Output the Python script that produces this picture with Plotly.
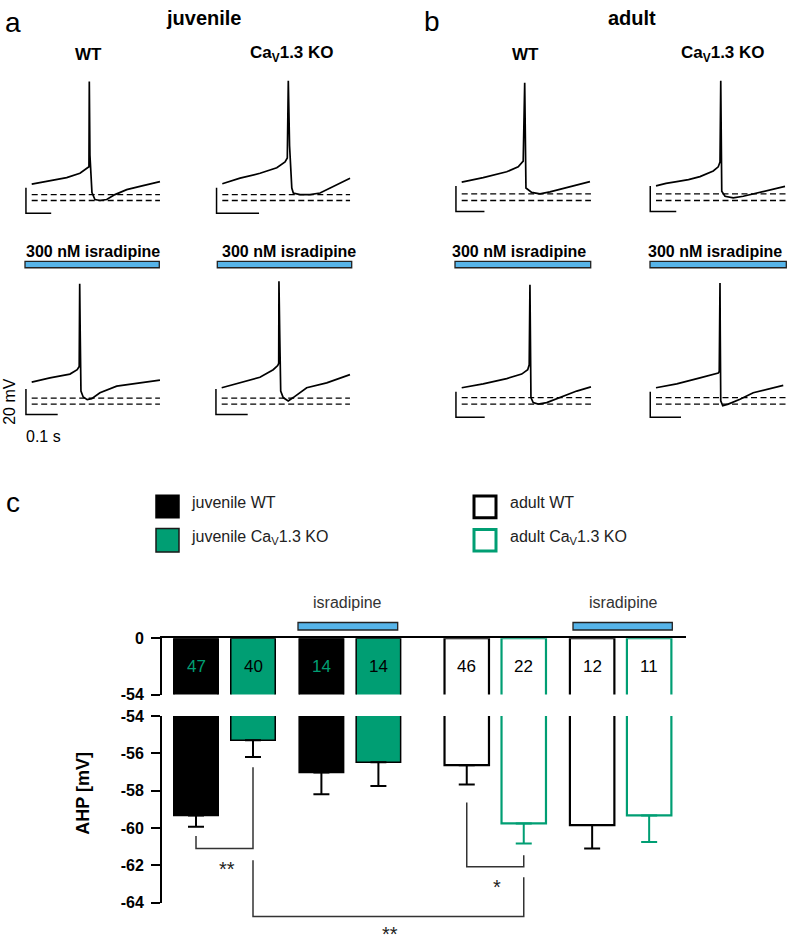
import plotly.graph_objects as go

W, H = 787, 951
FONT = "Liberation Sans, Arial, Helvetica, sans-serif"
GREEN = "#009e73"
BLUE = "#56b4e9"
INK = "#222222"

# ---------------- data: example recordings (time in ms, membrane potential in mV)
juv_wt_t = [0, 73, 140, 193, 222, 229, 230.4, 233, 241, 253, 273, 300, 333, 380, 433, 513]
juv_wt_v = [-47.2, -44.4, -42.1, -38.7, -34.8, -33.6, 33.1, -24.6, -53.8, -59.2, -60.0, -59.2, -55.4, -51.5, -49.0, -45.2]
juv_ko_t = [0, 71, 151, 218, 251, 260, 264, 269, 278, 284, 311, 351, 391, 444, 511]
juv_ko_v = [-46.9, -42.5, -38.7, -34.4, -29.8, -26.7, 33.8, -16.9, -50.2, -54.1, -55.4, -55.4, -54.1, -49.0, -42.5]
adu_wt_t = [0, 86, 180, 226, 246, 252, 255, 257, 280, 313, 353, 420, 513]
adu_wt_v = [-45.6, -42.1, -37.5, -33.6, -29.2, 32.3, -16.9, -50.2, -53.6, -54.8, -53.3, -49.8, -45.2]
adu_ko_t = [0, 40, 83, 130, 176, 229, 249, 256, 259, 261, 263, 276, 309, 349, 403, 456, 516]
adu_ko_v = [-48.5, -46.6, -45.2, -43.6, -41.3, -36.9, -33.6, -29.8, 33.8, -16.9, -52.8, -56.7, -57.9, -56.7, -54.1, -51.5, -49.0]
juv_wt_isr_t = [0, 73, 153, 182, 190, 192, 194, 197, 206, 222, 240, 273, 340, 433, 513]
juv_wt_isr_v = [-42.8, -39.5, -36.5, -33.1, -30.5, 34.3, -3.6, -49.8, -54.4, -56.5, -55.7, -51.1, -45.9, -43.4, -41.3]
juv_ko_isr_t = [0, 73, 153, 206, 224, 228, 229, 232, 236, 246, 266, 286, 340, 420, 513]
juv_ko_isr_v = [-47.2, -43.4, -39.0, -33.1, -29.8, -28.0, 36.2, -3.6, -49.8, -54.9, -57.5, -54.9, -47.2, -43.4, -36.9]
adu_wt_isr_t = [0, 86, 180, 240, 264, 270, 273, 275, 277, 286, 306, 340, 393, 460, 517]
adu_wt_isr_v = [-47.2, -44.2, -40.0, -36.5, -33.1, -29.2, 33.5, -3.6, -54.9, -58.8, -60.0, -58.8, -54.9, -49.8, -46.5]
adu_ko_isr_t = [0, 83, 176, 223, 249, 253, 256, 257, 259, 267, 289, 336, 389, 443, 509]
adu_ko_isr_v = [-47.2, -44.2, -39.5, -36.9, -35.7, -34.4, 34.8, -3.6, -57.5, -61.3, -60.0, -56.2, -51.1, -48.5, -45.4]

trace_t = [juv_wt_t, juv_ko_t, adu_wt_t, adu_ko_t, juv_wt_isr_t, juv_ko_isr_t, adu_wt_isr_t, adu_ko_isr_t]
trace_v = [juv_wt_v, juv_ko_v, adu_wt_v, adu_ko_v, juv_wt_isr_v, juv_ko_isr_v, adu_wt_isr_v, adu_ko_isr_v]
ahp_ref_levels = [[-55.4, -60.0], [-55.4, -60.0], [-54.8, -60.0], [-54.8, -60.0],
                  [-55.4, -60.0], [-55.4, -60.0], [-54.9, -60.0], [-54.9, -60.0]]
ref_end_ms = [513, 511, 517, 524, 513, 513, 517, 524]
scalebar_ms = [101, 170, 114, 104, 127, 127, 115, 123]
scalebar_mv = 20
scalebar_base_mv = [-70.0, -70.0, -68.7, -68.7, -68.2, -68.2, -70.3, -70.3]

# ---------------- data: AHP summary (panel c)
group_names = ["juvenile WT", "juvenile CaV1.3 KO", "juvenile WT + isradipine", "juvenile CaV1.3 KO + isradipine",
               "adult WT", "adult CaV1.3 KO", "adult WT + isradipine", "adult CaV1.3 KO + isradipine"]
ahp_mean = [-59.33, -55.30, -57.02, -56.47, -56.63, -59.75, -59.84, -59.32]
ahp_sem = [0.60, 0.89, 1.17, 1.28, 1.04, 1.08, 1.26, 1.43]
n_cells = [47, 40, 14, 14, 46, 22, 12, 11]
ticks_upper = [0, -54]
ticks_lower = [-54, -56, -58, -60, -62, -64]
# significance: (bar a, bar b, leg start a, leg start b, bracket level, label)
sig_tests = [(0, 1, -60.42, -56.74, -61.10, "**"),
             (1, 5, -61.72, -62.63, -64.74, "**"),
             (4, 5, -58.63, -61.46, -62.07, "*")]

# ---------------- styles / geometry
bar_fill = ["black", GREEN, "black", GREEN, "white", "white", "white", "white"]
bar_edge = ["black", "black", "black", "black", "black", GREEN, "black", GREEN]
err_col = ["black", "black", "black", "black", "black", GREEN, "black", GREEN]
n_col = [GREEN, "black", GREEN, "black", "black", "black", "black", "black"]
bar_pos = [0, 1, 2.2, 3.2, 4.75, 5.75, 6.95, 7.95]
BAR_W = 0.78

SX, SY = 0.25, 1.3  # px per ms, px per mV
origins = [(31.7, 196), (222.3, 196), (461.7, 196), (656, 196),
           (31.7, 403.3), (221.7, 403.3), (461.7, 403.3), (656, 403.3)]


def PX(x):
    return x / W


def PY(y):
    return 1 - y / H


fig = go.Figure()
layout = {}

# ---------------- trace panels
for i in range(8):
    k = i + 1
    xs = "x" if k == 1 else f"x{k}"
    ys = "y" if k == 1 else f"y{k}"
    ox, oy = origins[i]
    by0, by1 = (60, 216) if i < 4 else (266, 421)
    bx0, bx1 = ox - 9, min(ox + 131, W)
    layout["xaxis" if k == 1 else f"xaxis{k}"] = dict(
        domain=[PX(bx0), PX(bx1)], range=[(bx0 - ox) / SX, (bx1 - ox) / SX],
        visible=False, anchor=ys, fixedrange=True)
    layout["yaxis" if k == 1 else f"yaxis{k}"] = dict(
        domain=[PY(by1), PY(by0)], range=[-60 + (oy - by1) / SY, -60 + (oy - by0) / SY],
        visible=False, anchor=xs, fixedrange=True)
    for lev in ahp_ref_levels[i]:
        fig.add_trace(go.Scatter(x=[0, ref_end_ms[i]], y=[lev, lev], mode="lines",
                                 line=dict(color="black", width=1.3, dash="6px,3.5px"),
                                 xaxis=xs, yaxis=ys, showlegend=False, hoverinfo="skip"))
    fig.add_trace(go.Scatter(x=trace_t[i], y=trace_v[i], mode="lines",
                             line=dict(color="black", width=1.7),
                             xaxis=xs, yaxis=ys, showlegend=False, hoverinfo="skip"))
    sx0 = -23
    b = scalebar_base_mv[i]
    fig.add_trace(go.Scatter(x=[sx0, sx0, sx0 + scalebar_ms[i]], y=[b + scalebar_mv, b, b], mode="lines",
                             line=dict(color="black", width=1.5),
                             xaxis=xs, yaxis=ys, showlegend=False, hoverinfo="skip"))

# ---------------- bar chart (broken axis)
XD0, XD1 = 162, 686
XR0, XR1 = (XD0 - 196) / 57, (XD1 - 196) / 57
UP_TOP, UP_BOT = 641.7, 699
LO_TOP, LO_BOT = 721, 911
LO_R = [-64, -54]

tickfont = dict(family=FONT, size=16, color="black")
layout["xaxis9"] = dict(domain=[PX(XD0), PX(XD1)], range=[XR0, XR1], anchor="y9", side="top",
                        showline=True, linewidth=2, linecolor="black", ticks="",
                        showticklabels=False, showgrid=False, zeroline=False, fixedrange=True)
layout["yaxis9"] = dict(domain=[PY(UP_BOT), PY(UP_TOP)], range=[-54, 0], anchor="x9",
                        showline=True, linewidth=2, linecolor="black", ticks="outside",
                        ticklen=9, tickwidth=2, tickcolor="black", tickvals=ticks_upper,
                        ticktext=[f"<b>{v}</b>" for v in ticks_upper], tickfont=tickfont,
                        showgrid=False, zeroline=False, fixedrange=True, ticklabelstandoff=4)
layout["xaxis10"] = dict(domain=[PX(XD0), PX(XD1)], range=[XR0, XR1], anchor="y10",
                         visible=False, fixedrange=True)
layout["yaxis10"] = dict(domain=[PY(LO_BOT), PY(LO_TOP)], range=LO_R, anchor="x10",
                         showline=True, linewidth=2, linecolor="black", ticks="outside",
                         ticklen=9, tickwidth=2, tickcolor="black", tickvals=ticks_lower,
                         ticktext=[f"<b>{v}</b>" for v in ticks_lower], tickfont=tickfont,
                         showgrid=False, zeroline=False, fixedrange=True, ticklabelstandoff=4)

for j in range(8):
    lw = 1.5 if bar_fill[j] != "white" else 2.2
    fig.add_trace(go.Bar(x=[bar_pos[j]], y=[ahp_mean[j]], width=BAR_W, xaxis="x9", yaxis="y9",
                         marker=dict(color=bar_fill[j], line=dict(color=bar_edge[j], width=lw)),
                         name=group_names[j], showlegend=False, hoverinfo="skip"))
    fig.add_trace(go.Bar(x=[bar_pos[j]], y=[ahp_mean[j]], width=BAR_W, xaxis="x10", yaxis="y10",
                         marker=dict(color=bar_fill[j], line=dict(color=bar_edge[j], width=lw)),
                         error_y=dict(type="data", symmetric=False, array=[0], arrayminus=[ahp_sem[j]],
                                      color=err_col[j], thickness=2, width=8),
                         name=group_names[j], showlegend=False, hoverinfo="skip"))


def bx_px(pos):
    return XD0 + (pos - XR0) / (XR1 - XR0) * (XD1 - XD0)


def lo_py(v):
    return LO_TOP + (LO_R[1] - v) / (LO_R[1] - LO_R[0]) * (LO_BOT - LO_TOP)


def up_py(v):
    return UP_TOP + (0 - v) / 54 * (UP_BOT - UP_TOP)


shapes = []
annotations = []


def ann(x, y, text, size, bold=False, angle=0, color="black", xanchor="center"):
    annotations.append(dict(x=PX(x), y=PY(y), xref="paper", yref="paper",
                            text=f"<b>{text}</b>" if bold else text, showarrow=False,
                            textangle=angle, xanchor=xanchor, yanchor="middle",
                            font=dict(family=FONT, size=size, color=color)))


# significance brackets
for a, b_, ya, yb, ylow, lab in sig_tests:
    xa_px, xb_px = bx_px(bar_pos[a]), bx_px(bar_pos[b_])
    xa_, xb_ = PX(xa_px), PX(xb_px)
    path = (f"M {xa_},{PY(lo_py(ya))} L {xa_},{PY(lo_py(ylow))} "
            f"L {xb_},{PY(lo_py(ylow))} L {xb_},{PY(lo_py(yb))}")
    shapes.append(dict(type="path", xref="paper", yref="paper", path=path,
                       line=dict(color="#333333", width=1.5)))
    ann((xa_px + xb_px) / 2 + 2, min(lo_py(ylow) + 21, 943), lab, 20, color="#222")

# n numbers inside bars
for j in range(8):
    ann(bx_px(bar_pos[j]), up_py(-27), str(n_cells[j]), 17, color=n_col[j])

# isradipine bars over chart
for (x0, x1, cx) in [(298, 397.7, 347.7), (573, 672.3, 623)]:
    shapes.append(dict(type="rect", xref="paper", yref="paper", x0=PX(x0), x1=PX(x1),
                       y0=PY(633.3), y1=PY(625.7), fillcolor=BLUE, line=dict(color="#222", width=1.3)))
    ann(cx, 605, "isradipine", 16, color="#333")

# isradipine bars over traces
for (x0, x1, cx) in [(25, 159.3, 92.7), (217.3, 351.7, 289.3), (455, 590.7, 519), (650, 786.3, 715)]:
    shapes.append(dict(type="rect", xref="paper", yref="paper", x0=PX(x0), x1=PX(x1),
                       y0=PY(264.5), y1=PY(258), fillcolor=BLUE, line=dict(color="#222", width=1.3)))
    ann(cx, 248, "300 nM isradipine", 16, bold=True)

# legend
leg = [(156, 179, 496, 519, "black", "black", 1.5, 189, 504, "juvenile WT"),
       (156, 179, 530, 554, GREEN, "#1a1a1a", 1.5, 189, 539, "juvenile Ca<sub>V</sub>1.3 KO"),
       (474, 496, 497, 519, "white", "black", 3, 507.5, 504, "adult WT"),
       (474, 496, 531, 553, "white", GREEN, 3, 507.5, 539, "adult Ca<sub>V</sub>1.3 KO")]
for x0, x1, y0, y1, fc, lc, lw, tx, ty, txt in leg:
    shapes.append(dict(type="rect", xref="paper", yref="paper", x0=PX(x0), x1=PX(x1),
                       y0=PY(y1), y1=PY(y0), fillcolor=fc, line=dict(color=lc, width=lw)))
    ann(tx, ty, txt, 16, color=INK, xanchor="left")

# titles and labels
ann(13, 15, "a", 28)
ann(432, 14, "b", 28)
ann(13, 504, "c", 28)
ann(203, 10, "juvenile", 20, bold=True)
ann(632, 10, "adult", 20, bold=True)
for cx, txt in [(88, "WT"), (292, "Ca<sub>V</sub>1.3 KO"), (525, "WT"), (723, "Ca<sub>V</sub>1.3 KO")]:
    ann(cx, 47, txt, 17, bold=True)
ann(10, 401, "20 mV", 16, angle=-90)
ann(43, 436, "0.1 s", 16)
ann(83, 800, "AHP [mV]", 18, bold=True, angle=-90)

layout.update(dict(width=W, height=H, margin=dict(l=0, r=0, t=0, b=0),
                   paper_bgcolor="white", plot_bgcolor="rgba(0,0,0,0)",
                   showlegend=False, barmode="overlay",
                   font=dict(family=FONT, color="black"),
                   shapes=shapes, annotations=annotations))
fig.update_layout(**layout)
fig.write_html("out.html", config={"displayModeBar": False, "staticPlot": True},
               post_script="document.body.style.margin='0';document.body.style.padding='0';"
                           "document.body.style.overflow='hidden';")
